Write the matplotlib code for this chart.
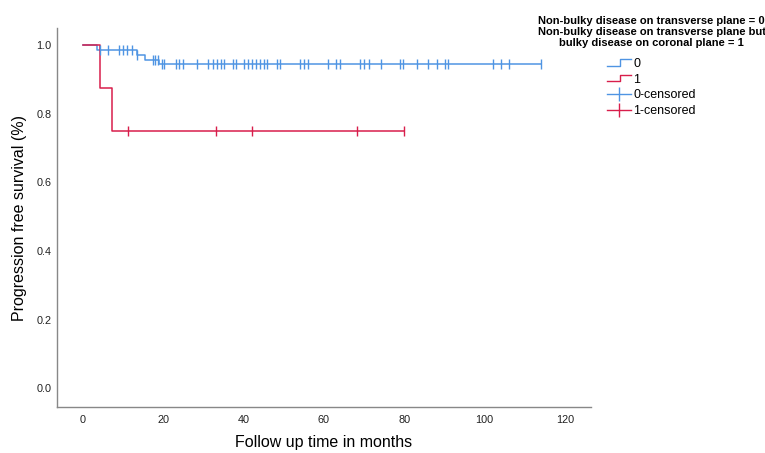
import numpy as np
import matplotlib
matplotlib.use('Agg')
import matplotlib.pyplot as plt
from matplotlib.lines import Line2D
from matplotlib.legend_handler import HandlerLine2D

# step curves (months, survival)
blue_times = [0, 3.5, 13.4, 15.3, 18.9, 114.1]
blue_surv = [1.0, 0.986, 0.972, 0.958, 0.945, 0.945]
red_times = [0, 4.3, 7.3, 80.0]
red_surv = [1.0, 0.875, 0.75, 0.75]

# censored observations (months)
blue_censored = [4.2, 6.3, 9.0, 9.9, 11.0, 12.3, 13.4, 17.3, 17.9, 18.7, 19.6, 20.2,
                 23.2, 24.0, 25.0, 28.3, 31.2, 32.3, 33.3, 34.3, 35.1, 37.3, 38.1,
                 40.1, 41.0, 42.0, 43.1, 44.1, 45.1, 45.9, 48.2, 49.1, 54.0, 55.0,
                 56.0, 61.1, 63.0, 64.0, 69.0, 70.0, 71.1, 74.1, 79.0, 79.8, 83.1,
                 86.0, 88.1, 90.2, 91.0, 102.0, 104.0, 106.0, 114.1]
red_censored = [11.3, 33.1, 42.1, 68.2, 80.0]

group_labels = ['0', '1', '0-censored', '1-censored']
legend_title = ('Non-bulky disease on transverse plane = 0\n'
                'Non-bulky disease on transverse plane but\n'
                'bulky disease on coronal plane = 1')
x_ticks = [0, 20, 40, 60, 80, 100, 120]
y_ticks = [0.0, 0.2, 0.4, 0.6, 0.8, 1.0]

BLUE = '#4f94e3'
RED = '#d81e4b'


def level_at(times, surv, t):
    idx = np.searchsorted(times, t, side='right') - 1
    return np.asarray(surv)[idx]


class StepHandler(HandlerLine2D):
    def create_artists(self, legend, orig_handle, xdescent, ydescent, width, height, fontsize, trans):
        xs = [0, width * 0.55, width * 0.55, width]
        ys = [height * 0.15, height * 0.15, height * 0.85, height * 0.85]
        ln = Line2D(np.array(xs) - xdescent, np.array(ys) - ydescent,
                    color=orig_handle.get_color(), lw=1.0)
        ln.set_transform(trans)
        return [ln]


plt.rcParams['font.family'] = ['Liberation Sans', 'DejaVu Sans']

fig = plt.figure(figsize=(7.65, 4.53), dpi=100)
ax = fig.add_axes([0.0745, 0.1015, 0.698, 0.8365])

ax.step(blue_times, blue_surv, where='post', color=BLUE, lw=1.1)
ax.step(red_times, red_surv, where='post', color=RED, lw=1.1)
ax.plot(blue_censored, level_at(blue_times, blue_surv, blue_censored), ls='none',
        marker='|', ms=7, mew=1.0, color=BLUE)
ax.plot(red_censored, level_at(red_times, red_surv, red_censored), ls='none',
        marker='|', ms=7, mew=1.0, color=RED)

ax.set_xlim(-6.5, 126.5)
ax.set_ylim(-0.055, 1.05)
ax.set_xticks(x_ticks)
ax.set_yticks(y_ticks)
ax.set_yticklabels([f'{v:.1f}' for v in y_ticks])
ax.tick_params(axis='x', length=0, labelsize=7.8, colors='#222222', pad=6)
ax.tick_params(axis='y', length=0, labelsize=7.8, colors='#222222', pad=4)
for s in ['top', 'right']:
    ax.spines[s].set_visible(False)
for s in ['left', 'bottom']:
    ax.spines[s].set_color('#888888')
    ax.spines[s].set_linewidth(1.0)

ax.set_xlabel('Follow up time in months', fontsize=11.5, labelpad=7)
ax.set_ylabel('Progression free survival (%)', fontsize=11.5, labelpad=7)

fig.text(0.852, 0.965, legend_title, ha='center', va='top', fontsize=8,
         fontweight='bold', linespacing=1.15)

handles = [Line2D([], [], color=BLUE), Line2D([], [], color=RED),
           Line2D([], [], color=BLUE, marker='|', ms=10, lw=1.0),
           Line2D([], [], color=RED, marker='|', ms=10, lw=1.0)]
step_handler = StepHandler()
fig.legend(handles, group_labels, loc='upper left', bbox_to_anchor=(0.785, 0.886),
           frameon=False, fontsize=9, handlelength=1.9, handletextpad=0.2,
           labelspacing=0.3, borderpad=0,
           handler_map={handles[0]: step_handler, handles[1]: step_handler})

fig.savefig('out.png', dpi=100)
